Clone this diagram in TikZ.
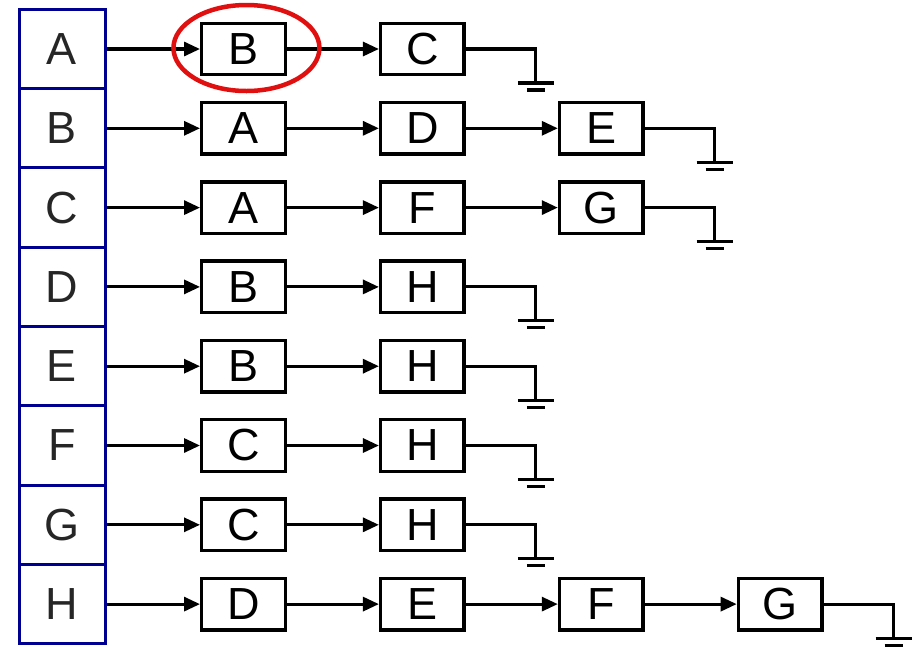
\documentclass[tikz,border=0pt]{standalone}
\usepackage{fontspec}
\setmainfont{Liberation Sans}
\usepackage{tikz}
\usetikzlibrary{arrows.meta, positioning}

% Colours
\definecolor{cframe}{HTML}{000090}
\definecolor{cmark}{HTML}{E01010}
\definecolor{cletter}{HTML}{262626}

\tikzset{
    cell/.style={draw=cframe, line width=3pt, minimum width=86pt, minimum height=79.3pt,
        outer sep=0pt, text=cletter, font=\fontsize{45}{45}\selectfont},
    item/.style={draw, line width=3.4pt, minimum width=83.5pt, minimum height=51.5pt,
        font=\fontsize{45}{45}\selectfont},
    link/.style={line width=3.1pt, -{Triangle[length=16pt, width=14pt]}},
    wire/.style={line width=3.1pt},
}

% Null pointer drawn as a ground sign
\newcommand{\tieground}[2]{%
    \path (#1.east) ++(70,34) coordinate (#2);
    \draw[wire] (#1.east) -| (#2);
    \draw[wire] (#2) ++(-18,0) -- ++(36,0);
    \draw[wire] (#2) ++(-9,7) -- ++(18,0);
}

\begin{document}
\begin{tikzpicture}[x=1pt, y=-1pt]
    \useasboundingbox (0,0) rectangle (919,649);

    % Head column
    \foreach \n [count=\i from 0] in {A,B,C,D,E,F,G,H} {
        \node[cell] (h\n) at (62, {49+79.3*\i}) {\n};
    }

    % Row A
    \node[item, right=95pt of hA] (a1) {B};
    \node[item, right=92pt of a1] (a2) {C};
    \draw[link, shorten <=1.5pt] (hA.east) -- (a1);
    \draw[link] (a1) -- (a2);
    \tieground{a2}{ga}
    \draw[cmark, line width=4.5pt] (a1.center) ++(3,-1) ellipse [x radius=73pt, y radius=43pt];

    % Row B
    \node[item, right=95pt of hB] (b1) {A};
    \node[item, right=92pt of b1] (b2) {D};
    \node[item, right=92pt of b2] (b3) {E};
    \draw[link, shorten <=1.5pt] (hB.east) -- (b1);
    \draw[link] (b1) -- (b2);
    \draw[link] (b2) -- (b3);
    \tieground{b3}{gb}

    % Row C
    \node[item, right=95pt of hC] (c1) {A};
    \node[item, right=92pt of c1] (c2) {F};
    \node[item, right=92pt of c2] (c3) {G};
    \draw[link, shorten <=1.5pt] (hC.east) -- (c1);
    \draw[link] (c1) -- (c2);
    \draw[link] (c2) -- (c3);
    \tieground{c3}{gc}

    % Row D
    \node[item, right=95pt of hD] (d1) {B};
    \node[item, right=92pt of d1] (d2) {H};
    \draw[link, shorten <=1.5pt] (hD.east) -- (d1);
    \draw[link] (d1) -- (d2);
    \tieground{d2}{gd}

    % Row E
    \node[item, right=95pt of hE] (e1) {B};
    \node[item, right=92pt of e1] (e2) {H};
    \draw[link, shorten <=1.5pt] (hE.east) -- (e1);
    \draw[link] (e1) -- (e2);
    \tieground{e2}{ge}

    % Row F
    \node[item, right=95pt of hF] (f1) {C};
    \node[item, right=92pt of f1] (f2) {H};
    \draw[link, shorten <=1.5pt] (hF.east) -- (f1);
    \draw[link] (f1) -- (f2);
    \tieground{f2}{gf}

    % Row G
    \node[item, right=95pt of hG] (g1) {C};
    \node[item, right=92pt of g1] (g2) {H};
    \draw[link, shorten <=1.5pt] (hG.east) -- (g1);
    \draw[link] (g1) -- (g2);
    \tieground{g2}{gg}

    % Row H
    \node[item, right=95pt of hH] (k1) {D};
    \node[item, right=92pt of k1] (k2) {E};
    \node[item, right=92pt of k2] (k3) {F};
    \node[item, right=92pt of k3] (k4) {G};
    \draw[link, shorten <=1.5pt] (hH.east) -- (k1);
    \draw[link] (k1) -- (k2);
    \draw[link] (k2) -- (k3);
    \draw[link] (k3) -- (k4);
    \tieground{k4}{gh}
\end{tikzpicture}
\end{document}
